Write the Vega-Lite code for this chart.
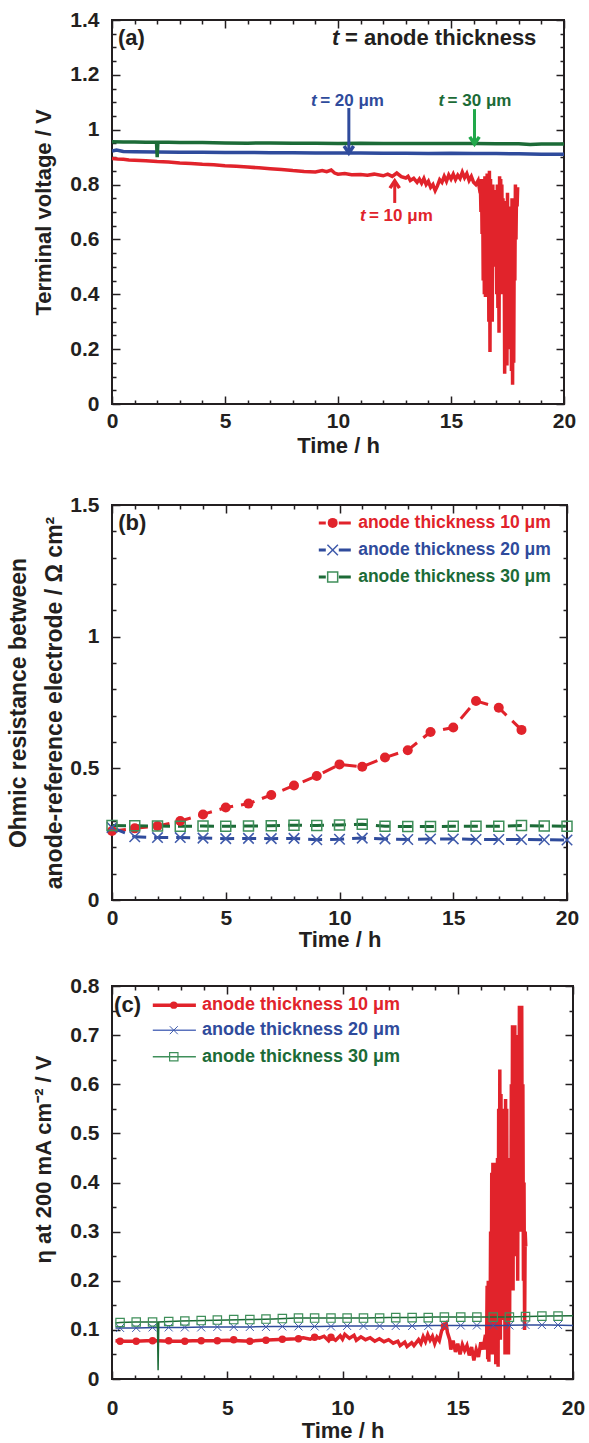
{
"$schema": "https://vega.github.io/schema/vega-lite/v6.json",
"padding": {"left": 6, "top": 8, "right": 5, "bottom": 0},
"background": "white",
"spacing": 22,
"config": {
  "font": "Liberation Sans",
  "view": {"stroke": "#231f20", "strokeWidth": 2},
  "axis": {"domain": false, "grid": false, "labelFont": "Liberation Sans", "labelFontWeight": "bold", "labelFontSize": 21, "labelColor": "#231f20", "titleFont": "Liberation Sans", "titleFontWeight": "bold", "titleFontSize": 22, "titleColor": "#231f20", "tickColor": "#231f20", "tickWidth": 1.5, "labelOverlap": false, "labelFlush": false, "labelBound": false, "format": "~g"},
  "text": {"font": "Liberation Sans", "fontWeight": "bold"}
},
"datasets": {
  "va": [
    {"s":"10","t":0,"v":0.895},{"s":"10","t":0.25,"v":0.893},{"s":"10","t":0.5,"v":0.892},{"s":"10","t":0.75,"v":0.890},{"s":"10","t":1,"v":0.889},{"s":"10","t":1.5,"v":0.887},{"s":"10","t":2,"v":0.884},{"s":"10","t":2.5,"v":0.882},{"s":"10","t":3,"v":0.879},{"s":"10","t":3.5,"v":0.877},{"s":"10","t":4,"v":0.874},{"s":"10","t":4.5,"v":0.872},{"s":"10","t":5,"v":0.869},{"s":"10","t":5.5,"v":0.867},{"s":"10","t":6,"v":0.864},{"s":"10","t":6.5,"v":0.861},{"s":"10","t":7,"v":0.858},{"s":"10","t":7.5,"v":0.855},{"s":"10","t":8,"v":0.851},{"s":"10","t":8.5,"v":0.848},{"s":"10","t":9,"v":0.846},{"s":"10","t":9.3,"v":0.851},{"s":"10","t":9.5,"v":0.847},{"s":"10","t":9.7,"v":0.853},{"s":"10","t":9.85,"v":0.842},{"s":"10","t":10,"v":0.838},{"s":"10","t":10.3,"v":0.840},{"s":"10","t":10.6,"v":0.836},{"s":"10","t":11,"v":0.837},{"s":"10","t":11.3,"v":0.834},{"s":"10","t":11.6,"v":0.838},{"s":"10","t":12,"v":0.832},{"s":"10","t":12.2,"v":0.838},{"s":"10","t":12.4,"v":0.830},{"s":"10","t":12.6,"v":0.842},{"s":"10","t":12.8,"v":0.829},{"s":"10","t":13,"v":0.824},{"s":"10","t":13.1,"v":0.830},{"s":"10","t":13.2,"v":0.815},{"s":"10","t":13.35,"v":0.823},{"s":"10","t":13.5,"v":0.808},{"s":"10","t":13.6,"v":0.820},{"s":"10","t":13.7,"v":0.805},{"s":"10","t":13.8,"v":0.822},{"s":"10","t":13.9,"v":0.800},{"s":"10","t":14,"v":0.812},{"s":"10","t":14.1,"v":0.790},{"s":"10","t":14.2,"v":0.800},{"s":"10","t":14.3,"v":0.778},{"s":"10","t":14.4,"v":0.795},{"s":"10","t":14.5,"v":0.818},{"s":"10","t":14.6,"v":0.808},{"s":"10","t":14.7,"v":0.830},{"s":"10","t":14.8,"v":0.812},{"s":"10","t":14.9,"v":0.835},{"s":"10","t":15,"v":0.820},{"s":"10","t":15.1,"v":0.838},{"s":"10","t":15.2,"v":0.818},{"s":"10","t":15.3,"v":0.834},{"s":"10","t":15.4,"v":0.822},{"s":"10","t":15.5,"v":0.845},{"s":"10","t":15.6,"v":0.825},{"s":"10","t":15.7,"v":0.840},{"s":"10","t":15.8,"v":0.815},{"s":"10","t":15.9,"v":0.830},{"s":"10","t":16,"v":0.808},{"s":"10","t":16.1,"v":0.800},{"s":"10","t":16.2,"v":0.815},{"s":"10","t":16.25,"v":0.790},
    {"s":"10","t":16.3,"v":0.80},{"s":"10","t":16.325,"v":0.70},{"s":"10","t":16.35,"v":0.82},{"s":"10","t":16.375,"v":0.62},{"s":"10","t":16.4,"v":0.80},{"s":"10","t":16.425,"v":0.45},{"s":"10","t":16.45,"v":0.78},{"s":"10","t":16.475,"v":0.40},{"s":"10","t":16.5,"v":0.83},{"s":"10","t":16.525,"v":0.39},{"s":"10","t":16.55,"v":0.76},{"s":"10","t":16.575,"v":0.55},{"s":"10","t":16.6,"v":0.84},{"s":"10","t":16.625,"v":0.45},{"s":"10","t":16.65,"v":0.80},{"s":"10","t":16.675,"v":0.30},{"s":"10","t":16.7,"v":0.85},{"s":"10","t":16.725,"v":0.19},{"s":"10","t":16.75,"v":0.82},{"s":"10","t":16.775,"v":0.40},{"s":"10","t":16.8,"v":0.78},{"s":"10","t":16.825,"v":0.30},{"s":"10","t":16.85,"v":0.80},{"s":"10","t":16.875,"v":0.55},{"s":"10","t":16.9,"v":0.76},{"s":"10","t":16.925,"v":0.50},{"s":"10","t":16.95,"v":0.72},{"s":"10","t":16.975,"v":0.60},{"s":"10","t":17.0,"v":0.78},{"s":"10","t":17.025,"v":0.40},{"s":"10","t":17.05,"v":0.80},{"s":"10","t":17.075,"v":0.35},{"s":"10","t":17.1,"v":0.76},{"s":"10","t":17.125,"v":0.26},{"s":"10","t":17.15,"v":0.83},{"s":"10","t":17.175,"v":0.45},{"s":"10","t":17.2,"v":0.82},{"s":"10","t":17.225,"v":0.40},{"s":"10","t":17.25,"v":0.80},{"s":"10","t":17.275,"v":0.55},{"s":"10","t":17.3,"v":0.75},{"s":"10","t":17.325,"v":0.60},{"s":"10","t":17.35,"v":0.72},{"s":"10","t":17.375,"v":0.11},{"s":"10","t":17.4,"v":0.70},{"s":"10","t":17.425,"v":0.30},{"s":"10","t":17.45,"v":0.74},{"s":"10","t":17.475,"v":0.14},{"s":"10","t":17.5,"v":0.77},{"s":"10","t":17.525,"v":0.35},{"s":"10","t":17.55,"v":0.70},{"s":"10","t":17.575,"v":0.30},{"s":"10","t":17.6,"v":0.72},{"s":"10","t":17.625,"v":0.20},{"s":"10","t":17.65,"v":0.68},{"s":"10","t":17.675,"v":0.12},{"s":"10","t":17.7,"v":0.75},{"s":"10","t":17.725,"v":0.07},{"s":"10","t":17.75,"v":0.70},{"s":"10","t":17.775,"v":0.15},{"s":"10","t":17.8,"v":0.66},{"s":"10","t":17.825,"v":0.45},{"s":"10","t":17.85,"v":0.80},{"s":"10","t":17.875,"v":0.60},{"s":"10","t":17.9,"v":0.78},{"s":"10","t":17.925,"v":0.72},{"s":"10","t":17.95,"v":0.79},
    {"s":"20","t":0,"v":0.922},{"s":"20","t":0.2,"v":0.926},{"s":"20","t":0.5,"v":0.921},{"s":"20","t":1,"v":0.920},{"s":"20","t":2,"v":0.919},{"s":"20","t":3,"v":0.918},{"s":"20","t":4,"v":0.918},{"s":"20","t":5,"v":0.917},{"s":"20","t":6,"v":0.917},{"s":"20","t":7,"v":0.916},{"s":"20","t":8,"v":0.916},{"s":"20","t":9,"v":0.915},{"s":"20","t":10,"v":0.915},{"s":"20","t":11,"v":0.915},{"s":"20","t":12,"v":0.914},{"s":"20","t":13,"v":0.914},{"s":"20","t":14,"v":0.913},{"s":"20","t":15,"v":0.914},{"s":"20","t":16,"v":0.913},{"s":"20","t":17,"v":0.913},{"s":"20","t":18,"v":0.912},{"s":"20","t":19,"v":0.911},{"s":"20","t":20,"v":0.911},
    {"s":"30","t":0,"v":0.956},{"s":"30","t":0.5,"v":0.955},{"s":"30","t":1,"v":0.955},{"s":"30","t":1.5,"v":0.954},{"s":"30","t":1.97,"v":0.954},{"s":"30","t":2.0,"v":0.900},{"s":"30","t":2.03,"v":0.954},{"s":"30","t":2.5,"v":0.954},{"s":"30","t":3,"v":0.953},{"s":"30","t":4,"v":0.953},{"s":"30","t":5,"v":0.952},{"s":"30","t":6,"v":0.951},{"s":"30","t":7,"v":0.952},{"s":"30","t":8,"v":0.951},{"s":"30","t":9,"v":0.951},{"s":"30","t":10,"v":0.950},{"s":"30","t":11,"v":0.951},{"s":"30","t":12,"v":0.950},{"s":"30","t":13,"v":0.950},{"s":"30","t":14,"v":0.950},{"s":"30","t":15,"v":0.950},{"s":"30","t":16,"v":0.950},{"s":"30","t":17,"v":0.949},{"s":"30","t":18,"v":0.949},{"s":"30","t":18.5,"v":0.946},{"s":"30","t":19,"v":0.948},{"s":"30","t":20,"v":0.948}
  ],
  "arrA": [
    {"s":"20","t":10.48,"v1":1.079,"v2":0.915,"dir":"down"},
    {"s":"30","t":16.04,"v1":1.075,"v2":0.948,"dir":"down"},
    {"s":"10","t":12.51,"v1":0.733,"v2":0.813,"dir":"up"}
  ],
  "annA": [
    {"kind":"big","label":"(a)","t":0.26,"v":1.334},
    {"kind":"big","label":"= anode thickness","t":10.31,"v":1.334},
    {"kind":"bigI","label":"t","t":9.74,"v":1.334},
    {"kind":"small","s":"20","label":"= 20 μm","t":9.21,"v":1.106},
    {"kind":"smallI","s":"20","label":"t","t":8.81,"v":1.106},
    {"kind":"small","s":"30","label":"= 30 μm","t":14.85,"v":1.105},
    {"kind":"smallI","s":"30","label":"t","t":14.45,"v":1.105},
    {"kind":"small","s":"10","label":"= 10 μm","t":11.37,"v":0.685},
    {"kind":"smallI","s":"10","label":"t","t":10.97,"v":0.685}
  ],
  "rb": [
    {"s":"10","t":0,"r":0.262},{"s":"10","t":1,"r":0.272},{"s":"10","t":2,"r":0.281},{"s":"10","t":3,"r":0.300},{"s":"10","t":4,"r":0.325},{"s":"10","t":5,"r":0.351},{"s":"10","t":6,"r":0.366},{"s":"10","t":7,"r":0.399},{"s":"10","t":8,"r":0.435},{"s":"10","t":9,"r":0.471},{"s":"10","t":10,"r":0.515},{"s":"10","t":11,"r":0.506},{"s":"10","t":12,"r":0.541},{"s":"10","t":13,"r":0.569},{"s":"10","t":14,"r":0.638},{"s":"10","t":15,"r":0.655},{"s":"10","t":16,"r":0.756},{"s":"10","t":17,"r":0.730},{"s":"10","t":18,"r":0.646},
    {"s":"20","t":0,"r":0.275},{"s":"20","t":1,"r":0.240},{"s":"20","t":2,"r":0.237},{"s":"20","t":3,"r":0.237},{"s":"20","t":4,"r":0.235},{"s":"20","t":5,"r":0.233},{"s":"20","t":6,"r":0.234},{"s":"20","t":7,"r":0.233},{"s":"20","t":8,"r":0.234},{"s":"20","t":9,"r":0.229},{"s":"20","t":10,"r":0.231},{"s":"20","t":11,"r":0.235},{"s":"20","t":12,"r":0.232},{"s":"20","t":13,"r":0.230},{"s":"20","t":14,"r":0.232},{"s":"20","t":15,"r":0.232},{"s":"20","t":16,"r":0.230},{"s":"20","t":17,"r":0.230},{"s":"20","t":18,"r":0.230},{"s":"20","t":19,"r":0.229},{"s":"20","t":20,"r":0.228},
    {"s":"30","t":0,"r":0.283},{"s":"30","t":1,"r":0.282},{"s":"30","t":2,"r":0.281},{"s":"30","t":3,"r":0.280},{"s":"30","t":4,"r":0.281},{"s":"30","t":5,"r":0.280},{"s":"30","t":6,"r":0.281},{"s":"30","t":7,"r":0.282},{"s":"30","t":8,"r":0.284},{"s":"30","t":9,"r":0.283},{"s":"30","t":10,"r":0.285},{"s":"30","t":11,"r":0.288},{"s":"30","t":12,"r":0.280},{"s":"30","t":13,"r":0.279},{"s":"30","t":14,"r":0.279},{"s":"30","t":15,"r":0.280},{"s":"30","t":16,"r":0.280},{"s":"30","t":17,"r":0.280},{"s":"30","t":18,"r":0.283},{"s":"30","t":19,"r":0.281},{"s":"30","t":20,"r":0.280}
  ],
  "legB": [
    {"s":"10","label":"anode thickness 10 μm","t1":9.09,"t2":10.51,"tm":9.7,"tx":10.82,"y":1.432},
    {"s":"20","label":"anode thickness 20 μm","t1":9.09,"t2":10.51,"tm":9.7,"tx":10.82,"y":1.329},
    {"s":"30","label":"anode thickness 30 μm","t1":9.09,"t2":10.51,"tm":9.7,"tx":10.82,"y":1.227}
  ],
  "annB": [{"label":"(b)","t":0.27,"r":1.432}],
  "vc": [
    {"s":"10","t":0.15,"e":0.078},{"s":"10","t":0.5,"e":0.077},{"s":"10","t":1,"e":0.077},{"s":"10","t":1.5,"e":0.078},{"s":"10","t":2,"e":0.078},{"s":"10","t":2.5,"e":0.077},{"s":"10","t":3,"e":0.077},{"s":"10","t":3.5,"e":0.078},{"s":"10","t":4,"e":0.078},{"s":"10","t":4.5,"e":0.078},{"s":"10","t":5,"e":0.079},{"s":"10","t":5.5,"e":0.078},{"s":"10","t":6,"e":0.077},{"s":"10","t":6.5,"e":0.079},{"s":"10","t":7,"e":0.080},{"s":"10","t":7.5,"e":0.081},{"s":"10","t":8,"e":0.082},{"s":"10","t":8.3,"e":0.084},{"s":"10","t":8.6,"e":0.081},{"s":"10","t":8.8,"e":0.086},{"s":"10","t":9,"e":0.083},{"s":"10","t":9.2,"e":0.087},{"s":"10","t":9.4,"e":0.078},{"s":"10","t":9.5,"e":0.085},{"s":"10","t":9.7,"e":0.079},{"s":"10","t":9.9,"e":0.088},{"s":"10","t":10,"e":0.081},{"s":"10","t":10.1,"e":0.091},{"s":"10","t":10.3,"e":0.083},{"s":"10","t":10.5,"e":0.089},{"s":"10","t":10.6,"e":0.079},{"s":"10","t":10.8,"e":0.086},{"s":"10","t":11,"e":0.080},{"s":"10","t":11.2,"e":0.084},{"s":"10","t":11.4,"e":0.077},{"s":"10","t":11.6,"e":0.082},{"s":"10","t":11.8,"e":0.076},{"s":"10","t":12,"e":0.080},{"s":"10","t":12.2,"e":0.073},{"s":"10","t":12.4,"e":0.077},{"s":"10","t":12.5,"e":0.068},{"s":"10","t":12.7,"e":0.075},{"s":"10","t":12.8,"e":0.066},{"s":"10","t":13,"e":0.074},{"s":"10","t":13.1,"e":0.068},{"s":"10","t":13.3,"e":0.080},{"s":"10","t":13.4,"e":0.072},{"s":"10","t":13.5,"e":0.086},{"s":"10","t":13.6,"e":0.076},{"s":"10","t":13.7,"e":0.090},{"s":"10","t":13.8,"e":0.079},{"s":"10","t":13.9,"e":0.087},{"s":"10","t":14,"e":0.072},{"s":"10","t":14.1,"e":0.085},{"s":"10","t":14.2,"e":0.078},{"s":"10","t":14.3,"e":0.098},{"s":"10","t":14.4,"e":0.105},{"s":"10","t":14.5,"e":0.112},{"s":"10","t":14.55,"e":0.095},{"s":"10","t":14.65,"e":0.080},{"s":"10","t":14.7,"e":0.060},{"s":"10","t":14.8,"e":0.078},{"s":"10","t":14.9,"e":0.055},{"s":"10","t":15,"e":0.072},{"s":"10","t":15.1,"e":0.050},{"s":"10","t":15.2,"e":0.070},{"s":"10","t":15.3,"e":0.058},{"s":"10","t":15.4,"e":0.068},{"s":"10","t":15.5,"e":0.048},{"s":"10","t":15.6,"e":0.065},{"s":"10","t":15.7,"e":0.038},{"s":"10","t":15.8,"e":0.060},{"s":"10","t":15.9,"e":0.045},{"s":"10","t":16,"e":0.075},{"s":"10","t":16.1,"e":0.060},{"s":"10","t":16.2,"e":0.090},
    {"s":"10","t":16.25,"e":0.06},{"s":"10","t":16.275,"e":0.19},{"s":"10","t":16.3,"e":0.04},{"s":"10","t":16.325,"e":0.20},{"s":"10","t":16.35,"e":0.035},{"s":"10","t":16.375,"e":0.18},{"s":"10","t":16.4,"e":0.06},{"s":"10","t":16.425,"e":0.30},{"s":"10","t":16.45,"e":0.05},{"s":"10","t":16.475,"e":0.42},{"s":"10","t":16.5,"e":0.08},{"s":"10","t":16.525,"e":0.44},{"s":"10","t":16.55,"e":0.05},{"s":"10","t":16.575,"e":0.44},{"s":"10","t":16.6,"e":0.10},{"s":"10","t":16.625,"e":0.40},{"s":"10","t":16.65,"e":0.03},{"s":"10","t":16.675,"e":0.35},{"s":"10","t":16.7,"e":0.12},{"s":"10","t":16.725,"e":0.45},{"s":"10","t":16.75,"e":0.025},{"s":"10","t":16.775,"e":0.55},{"s":"10","t":16.8,"e":0.15},{"s":"10","t":16.825,"e":0.63},{"s":"10","t":16.85,"e":0.08},{"s":"10","t":16.875,"e":0.58},{"s":"10","t":16.9,"e":0.20},{"s":"10","t":16.925,"e":0.55},{"s":"10","t":16.95,"e":0.12},{"s":"10","t":16.975,"e":0.50},{"s":"10","t":17.0,"e":0.25},{"s":"10","t":17.025,"e":0.47},{"s":"10","t":17.05,"e":0.05},{"s":"10","t":17.075,"e":0.57},{"s":"10","t":17.1,"e":0.20},{"s":"10","t":17.125,"e":0.55},{"s":"10","t":17.15,"e":0.10},{"s":"10","t":17.175,"e":0.40},{"s":"10","t":17.2,"e":0.05},{"s":"10","t":17.225,"e":0.30},{"s":"10","t":17.25,"e":0.12},{"s":"10","t":17.275,"e":0.45},{"s":"10","t":17.3,"e":0.20},{"s":"10","t":17.325,"e":0.60},{"s":"10","t":17.35,"e":0.25},{"s":"10","t":17.375,"e":0.72},{"s":"10","t":17.4,"e":0.18},{"s":"10","t":17.425,"e":0.71},{"s":"10","t":17.45,"e":0.30},{"s":"10","t":17.475,"e":0.72},{"s":"10","t":17.5,"e":0.25},{"s":"10","t":17.525,"e":0.65},{"s":"10","t":17.55,"e":0.35},{"s":"10","t":17.575,"e":0.70},{"s":"10","t":17.6,"e":0.20},{"s":"10","t":17.625,"e":0.68},{"s":"10","t":17.65,"e":0.40},{"s":"10","t":17.675,"e":0.76},{"s":"10","t":17.7,"e":0.30},{"s":"10","t":17.725,"e":0.75},{"s":"10","t":17.75,"e":0.45},{"s":"10","t":17.775,"e":0.76},{"s":"10","t":17.8,"e":0.35},{"s":"10","t":17.825,"e":0.60},{"s":"10","t":17.85,"e":0.20},{"s":"10","t":17.875,"e":0.40},{"s":"10","t":17.9,"e":0.10},{"s":"10","t":17.925,"e":0.30},{"s":"10","t":17.95,"e":0.27},
    {"s":"20","t":0.15,"e":0.104},{"s":"20","t":1,"e":0.104},{"s":"20","t":2,"e":0.105},{"s":"20","t":3,"e":0.105},{"s":"20","t":4,"e":0.106},{"s":"20","t":5,"e":0.106},{"s":"20","t":6,"e":0.106},{"s":"20","t":7,"e":0.107},{"s":"20","t":8,"e":0.107},{"s":"20","t":9,"e":0.107},{"s":"20","t":10,"e":0.108},{"s":"20","t":11,"e":0.108},{"s":"20","t":12,"e":0.108},{"s":"20","t":13,"e":0.108},{"s":"20","t":14,"e":0.109},{"s":"20","t":15,"e":0.109},{"s":"20","t":16,"e":0.109},{"s":"20","t":17,"e":0.109},{"s":"20","t":18,"e":0.110},{"s":"20","t":19,"e":0.110},{"s":"20","t":20,"e":0.109},
    {"s":"30","t":0.15,"e":0.114},{"s":"30","t":0.35,"e":0.115},{"s":"30","t":1,"e":0.116},{"s":"30","t":1.97,"e":0.116},{"s":"30","t":2.0,"e":0.018},{"s":"30","t":2.03,"e":0.116},{"s":"30","t":2.5,"e":0.117},{"s":"30","t":3,"e":0.118},{"s":"30","t":4,"e":0.119},{"s":"30","t":5,"e":0.120},{"s":"30","t":6,"e":0.121},{"s":"30","t":7,"e":0.122},{"s":"30","t":8,"e":0.124},{"s":"30","t":9,"e":0.124},{"s":"30","t":10,"e":0.124},{"s":"30","t":11,"e":0.124},{"s":"30","t":12,"e":0.125},{"s":"30","t":13,"e":0.125},{"s":"30","t":14,"e":0.126},{"s":"30","t":15,"e":0.126},{"s":"30","t":16,"e":0.126},{"s":"30","t":17,"e":0.126},{"s":"30","t":18,"e":0.127},{"s":"30","t":19,"e":0.128},{"s":"30","t":20,"e":0.129}
  ],
  "mc": [
    {"s":"10","t":0.35,"e":0.077},{"s":"10","t":1.05,"e":0.077},{"s":"10","t":1.76,"e":0.078},{"s":"10","t":2.46,"e":0.078},{"s":"10","t":3.16,"e":0.077},{"s":"10","t":3.87,"e":0.078},{"s":"10","t":4.57,"e":0.078},{"s":"10","t":5.28,"e":0.080},{"s":"10","t":5.98,"e":0.077},{"s":"10","t":6.68,"e":0.079},{"s":"10","t":7.39,"e":0.081},{"s":"10","t":8.09,"e":0.082},{"s":"10","t":8.79,"e":0.085},{"s":"10","t":9.5,"e":0.085},{"s":"10","t":14.42,"e":0.108},
    {"s":"20","t":0.35,"e":0.104},{"s":"20","t":1.05,"e":0.104},{"s":"20","t":1.76,"e":0.105},{"s":"20","t":2.46,"e":0.105},{"s":"20","t":3.16,"e":0.105},{"s":"20","t":3.87,"e":0.105},{"s":"20","t":4.57,"e":0.106},{"s":"20","t":5.28,"e":0.106},{"s":"20","t":5.98,"e":0.106},{"s":"20","t":6.68,"e":0.106},{"s":"20","t":7.39,"e":0.107},{"s":"20","t":8.09,"e":0.107},{"s":"20","t":8.79,"e":0.107},{"s":"20","t":9.5,"e":0.107},{"s":"20","t":10.2,"e":0.108},{"s":"20","t":10.91,"e":0.108},{"s":"20","t":11.61,"e":0.108},{"s":"20","t":12.31,"e":0.108},{"s":"20","t":13.02,"e":0.108},{"s":"20","t":13.72,"e":0.108},{"s":"20","t":14.42,"e":0.109},{"s":"20","t":15.13,"e":0.109},{"s":"20","t":15.83,"e":0.109},{"s":"20","t":16.54,"e":0.109},{"s":"20","t":17.24,"e":0.109},{"s":"20","t":17.94,"e":0.110},{"s":"20","t":18.65,"e":0.110},{"s":"20","t":19.35,"e":0.110},
    {"s":"30","t":0.35,"e":0.115},{"s":"30","t":1.05,"e":0.116},{"s":"30","t":1.76,"e":0.116},{"s":"30","t":2.46,"e":0.117},{"s":"30","t":3.16,"e":0.118},{"s":"30","t":3.87,"e":0.119},{"s":"30","t":4.57,"e":0.120},{"s":"30","t":5.28,"e":0.121},{"s":"30","t":5.98,"e":0.121},{"s":"30","t":6.68,"e":0.122},{"s":"30","t":7.39,"e":0.123},{"s":"30","t":8.09,"e":0.124},{"s":"30","t":8.79,"e":0.124},{"s":"30","t":9.5,"e":0.124},{"s":"30","t":10.2,"e":0.124},{"s":"30","t":10.91,"e":0.124},{"s":"30","t":11.61,"e":0.124},{"s":"30","t":12.31,"e":0.125},{"s":"30","t":13.02,"e":0.125},{"s":"30","t":13.72,"e":0.125},{"s":"30","t":14.42,"e":0.126},{"s":"30","t":15.13,"e":0.126},{"s":"30","t":15.83,"e":0.126},{"s":"30","t":16.54,"e":0.126},{"s":"30","t":17.24,"e":0.126},{"s":"30","t":17.94,"e":0.127},{"s":"30","t":18.65,"e":0.128},{"s":"30","t":19.35,"e":0.128}
  ],
  "legC": [
    {"s":"10","label":"anode thickness 10 μm","t1":1.77,"t2":3.64,"tm":2.68,"tx":3.9,"y":0.761},
    {"s":"20","label":"anode thickness 20 μm","t1":1.77,"t2":3.64,"tm":2.68,"tx":3.9,"y":0.710},
    {"s":"30","label":"anode thickness 30 μm","t1":1.77,"t2":3.64,"tm":2.68,"tx":3.9,"y":0.656}
  ],
  "annC": [{"label":"(c)","t":0.09,"e":0.761}]
},
"vconcat": [
{
  "width": 452, "height": 384,
  "resolve": {"axis": {"x": "independent", "y": "independent"}, "scale": {"color": "independent"}},
  "layer": [
    {"data": {"name": "va"}, "transform": [{"filter": "datum.s == '10'"}],
     "mark": {"type": "line", "strokeWidth": 3.5, "color": "#e1232b", "clip": true},
     "encoding": {
       "x": {"field": "t", "type": "quantitative", "scale": {"domain": [0, 20], "nice": false, "zero": false},
             "axis": {"orient": "bottom", "values": [0,1,2,3,4,5,6,7,8,9,10,11,12,13,14,15,16,17,18,19,20], "labelExpr": "datum.value % 5 == 0 ? datum.label : ''", "tickSize": {"condition": {"test": "datum.value % 5 == 0", "value": -8}, "value": -4}, "labelPadding": 14.5, "title": "Time / h", "titlePadding": 0}},
       "y": {"field": "v", "type": "quantitative", "scale": {"domain": [0, 1.4], "nice": false, "zero": false},
             "axis": {"orient": "left", "values": [0,0.05,0.1,0.15,0.2,0.25,0.3,0.35,0.4,0.45,0.5,0.55,0.6,0.65,0.7,0.75,0.8,0.85,0.9,0.95,1,1.05,1.1,1.15,1.2,1.25,1.3,1.35,1.4], "labelExpr": "round(datum.value*20) % 4 == 0 ? datum.label : ''", "tickSize": {"condition": {"test": "round(datum.value*20) % 4 == 0", "value": -8}, "value": -4}, "labelPadding": 21, "title": "Terminal voltage / V", "titlePadding": 14}}
     }},
    {"data": {"name": "va"}, "transform": [{"filter": "datum.s == '20'"}],
     "mark": {"type": "line", "strokeWidth": 3.5, "color": "#2f4b9c", "clip": true},
     "encoding": {
       "x": {"field": "t", "type": "quantitative", "axis": {"orient": "top", "values": [0,1,2,3,4,5,6,7,8,9,10,11,12,13,14,15,16,17,18,19,20], "labels": false, "tickSize": {"condition": {"test": "datum.value % 5 == 0", "value": -8}, "value": -4}, "title": null}},
       "y": {"field": "v", "type": "quantitative", "axis": {"orient": "right", "values": [0,0.05,0.1,0.15,0.2,0.25,0.3,0.35,0.4,0.45,0.5,0.55,0.6,0.65,0.7,0.75,0.8,0.85,0.9,0.95,1,1.05,1.1,1.15,1.2,1.25,1.3,1.35,1.4], "labels": false, "tickSize": {"condition": {"test": "round(datum.value*20) % 4 == 0", "value": -8}, "value": -4}, "title": null}}
     }},
    {"data": {"name": "va"}, "transform": [{"filter": "datum.s == '30'"}],
     "mark": {"type": "line", "strokeWidth": 3.5, "color": "#1c6b37", "clip": true},
     "encoding": {"x": {"field": "t", "type": "quantitative", "axis": null}, "y": {"field": "v", "type": "quantitative", "axis": null}}},
    {"data": {"name": "arrA"},
     "mark": {"type": "rule", "strokeWidth": 3},
     "encoding": {"x": {"field": "t", "type": "quantitative", "axis": null}, "y": {"field": "v1", "type": "quantitative", "axis": null}, "y2": {"field": "v2"},
       "color": {"field": "s", "type": "nominal", "scale": {"domain": ["10","20","30"], "range": ["#e1232b","#2f4b9c","#21a84a"]}, "legend": null}}},
    {"data": {"name": "arrA"}, "transform": [{"filter": "datum.dir == 'down'"}],
     "mark": {"type": "point", "shape": "M-1,-1.5L0,0L1,-1.5", "size": 90, "filled": false, "strokeWidth": 3.5, "opacity": 1, "strokeJoin": "miter"},
     "encoding": {"x": {"field": "t", "type": "quantitative", "axis": null}, "y": {"field": "v2", "type": "quantitative", "axis": null},
       "color": {"field": "s", "type": "nominal", "scale": {"domain": ["10","20","30"], "range": ["#e1232b","#2f4b9c","#21a84a"]}, "legend": null}}},
    {"data": {"name": "arrA"}, "transform": [{"filter": "datum.dir == 'up'"}],
     "mark": {"type": "point", "shape": "M-1,1.5L0,0L1,1.5", "size": 90, "filled": false, "strokeWidth": 3.5, "opacity": 1, "strokeJoin": "miter"},
     "encoding": {"x": {"field": "t", "type": "quantitative", "axis": null}, "y": {"field": "v2", "type": "quantitative", "axis": null},
       "color": {"field": "s", "type": "nominal", "scale": {"domain": ["10","20","30"], "range": ["#e1232b","#2f4b9c","#21a84a"]}, "legend": null}}},
    {"data": {"name": "annA"}, "transform": [{"filter": "datum.kind == 'big'"}],
     "mark": {"type": "text", "align": "left", "baseline": "middle", "fontSize": 22, "fontWeight": "bold", "color": "#231f20"},
     "encoding": {"x": {"field": "t", "type": "quantitative", "axis": null}, "y": {"field": "v", "type": "quantitative", "axis": null}, "text": {"field": "label"}}},
    {"data": {"name": "annA"}, "transform": [{"filter": "datum.kind == 'bigI'"}],
     "mark": {"type": "text", "align": "left", "baseline": "middle", "fontSize": 22, "fontWeight": "bold", "fontStyle": "italic", "color": "#231f20"},
     "encoding": {"x": {"field": "t", "type": "quantitative", "axis": null}, "y": {"field": "v", "type": "quantitative", "axis": null}, "text": {"field": "label"}}},
    {"data": {"name": "annA"}, "transform": [{"filter": "datum.kind == 'small'"}],
     "mark": {"type": "text", "align": "left", "baseline": "middle", "fontSize": 17, "fontWeight": "bold"},
     "encoding": {"x": {"field": "t", "type": "quantitative", "axis": null}, "y": {"field": "v", "type": "quantitative", "axis": null}, "text": {"field": "label"},
       "color": {"field": "s", "type": "nominal", "scale": {"domain": ["10","20","30"], "range": ["#e1232b","#2f4b9c","#1c6b37"]}, "legend": null}}},
    {"data": {"name": "annA"}, "transform": [{"filter": "datum.kind == 'smallI'"}],
     "mark": {"type": "text", "align": "left", "baseline": "middle", "fontSize": 17, "fontWeight": "bold", "fontStyle": "italic"},
     "encoding": {"x": {"field": "t", "type": "quantitative", "axis": null}, "y": {"field": "v", "type": "quantitative", "axis": null}, "text": {"field": "label"},
       "color": {"field": "s", "type": "nominal", "scale": {"domain": ["10","20","30"], "range": ["#e1232b","#2f4b9c","#1c6b37"]}, "legend": null}}}
  ]
},
{
  "width": 455, "height": 395,
  "resolve": {"axis": {"x": "independent", "y": "independent"}, "scale": {"color": "independent"}},
  "layer": [
    {"data": {"name": "rb"}, "transform": [{"filter": "datum.s == '10'"}],
     "mark": {"type": "line", "strokeWidth": 3, "strokeDash": [14, 8], "color": "#e1232b", "clip": true},
     "encoding": {
       "x": {"field": "t", "type": "quantitative", "scale": {"domain": [0, 20], "nice": false, "zero": false},
             "axis": {"orient": "bottom", "values": [0,1,2,3,4,5,6,7,8,9,10,11,12,13,14,15,16,17,18,19,20], "labelExpr": "datum.value % 5 == 0 ? datum.label : ''", "tickSize": {"condition": {"test": "datum.value % 5 == 0", "value": -8}, "value": -4}, "labelPadding": 15.5, "title": "Time / h", "titlePadding": -3}},
       "y": {"field": "r", "type": "quantitative", "scale": {"domain": [0, 1.5], "nice": false, "zero": false},
             "axis": {"orient": "left", "values": [0,0.1,0.2,0.3,0.4,0.5,0.6,0.7,0.8,0.9,1,1.1,1.2,1.3,1.4,1.5], "labelExpr": "round(datum.value*10) % 5 == 0 ? datum.label : ''", "tickSize": {"condition": {"test": "round(datum.value*10) % 5 == 0", "value": -8}, "value": -4}, "labelPadding": 21, "title": ["Ohmic resistance between", "anode-reference electrode / Ω cm²"], "titleFontSize": 23, "titleLineHeight": 36, "titlePadding": 3}}
     }},
    {"data": {"name": "rb"}, "transform": [{"filter": "datum.s == '20'"}],
     "mark": {"type": "line", "strokeWidth": 3, "strokeDash": [14, 8], "color": "#2f4b9c", "clip": true},
     "encoding": {
       "x": {"field": "t", "type": "quantitative", "axis": {"orient": "top", "values": [0,1,2,3,4,5,6,7,8,9,10,11,12,13,14,15,16,17,18,19,20], "labels": false, "tickSize": {"condition": {"test": "datum.value % 5 == 0", "value": -8}, "value": -4}, "title": " ", "titleFontSize": 10, "titlePadding": 13}},
       "y": {"field": "r", "type": "quantitative", "axis": {"orient": "right", "values": [0,0.1,0.2,0.3,0.4,0.5,0.6,0.7,0.8,0.9,1,1.1,1.2,1.3,1.4,1.5], "labels": false, "tickSize": {"condition": {"test": "round(datum.value*10) % 5 == 0", "value": -8}, "value": -4}, "title": null}}
     }},
    {"data": {"name": "rb"}, "transform": [{"filter": "datum.s == '30'"}],
     "mark": {"type": "line", "strokeWidth": 3, "strokeDash": [14, 8], "color": "#1c6b37", "clip": true},
     "encoding": {"x": {"field": "t", "type": "quantitative", "axis": null}, "y": {"field": "r", "type": "quantitative", "axis": null}}},
    {"data": {"name": "rb"}, "transform": [{"filter": "datum.s == '10'"}],
     "mark": {"type": "point", "shape": "circle", "filled": true, "size": 100, "color": "#e1232b", "opacity": 1},
     "encoding": {"x": {"field": "t", "type": "quantitative", "axis": null}, "y": {"field": "r", "type": "quantitative", "axis": null}}},
    {"data": {"name": "rb"}, "transform": [{"filter": "datum.s == '20'"}],
     "mark": {"type": "point", "shape": "M-1,-1L1,1M-1,1L1,-1", "filled": false, "size": 110, "strokeWidth": 1.5, "color": "#3f5aab", "opacity": 1},
     "encoding": {"x": {"field": "t", "type": "quantitative", "axis": null}, "y": {"field": "r", "type": "quantitative", "axis": null}}},
    {"data": {"name": "rb"}, "transform": [{"filter": "datum.s == '30'"}],
     "mark": {"type": "point", "shape": "square", "filled": false, "size": 100, "strokeWidth": 1.5, "color": "#3f8f5a", "opacity": 1},
     "encoding": {"x": {"field": "t", "type": "quantitative", "axis": null}, "y": {"field": "r", "type": "quantitative", "axis": null}}},
    {"data": {"name": "legB"},
     "mark": {"type": "rule", "strokeWidth": 3, "strokeDash": [7, 13, 12]},
     "encoding": {"x": {"field": "t1", "type": "quantitative", "axis": null}, "x2": {"field": "t2"}, "y": {"field": "y", "type": "quantitative", "axis": null},
       "color": {"field": "s", "type": "nominal", "scale": {"domain": ["10","20","30"], "range": ["#e1232b","#2f4b9c","#1c6b37"]}, "legend": null}}},
    {"data": {"name": "legB"}, "transform": [{"filter": "datum.s == '10'"}],
     "mark": {"type": "point", "shape": "circle", "filled": true, "size": 100, "color": "#e1232b", "opacity": 1},
     "encoding": {"x": {"field": "tm", "type": "quantitative", "axis": null}, "y": {"field": "y", "type": "quantitative", "axis": null}}},
    {"data": {"name": "legB"}, "transform": [{"filter": "datum.s == '20'"}],
     "mark": {"type": "point", "shape": "M-1,-1L1,1M-1,1L1,-1", "filled": false, "size": 110, "strokeWidth": 1.5, "color": "#3f5aab", "opacity": 1},
     "encoding": {"x": {"field": "tm", "type": "quantitative", "axis": null}, "y": {"field": "y", "type": "quantitative", "axis": null}}},
    {"data": {"name": "legB"}, "transform": [{"filter": "datum.s == '30'"}],
     "mark": {"type": "point", "shape": "square", "filled": false, "size": 100, "strokeWidth": 1.5, "color": "#3f8f5a", "opacity": 1},
     "encoding": {"x": {"field": "tm", "type": "quantitative", "axis": null}, "y": {"field": "y", "type": "quantitative", "axis": null}}},
    {"data": {"name": "legB"},
     "mark": {"type": "text", "align": "left", "baseline": "middle", "fontSize": 17.5, "fontWeight": "bold"},
     "encoding": {"x": {"field": "tx", "type": "quantitative", "axis": null}, "y": {"field": "y", "type": "quantitative", "axis": null}, "text": {"field": "label"},
       "color": {"field": "s", "type": "nominal", "scale": {"domain": ["10","20","30"], "range": ["#e1232b","#2f4b9c","#1c6b37"]}, "legend": null}}},
    {"data": {"name": "annB"},
     "mark": {"type": "text", "align": "left", "baseline": "middle", "fontSize": 22, "fontWeight": "bold", "color": "#231f20"},
     "encoding": {"x": {"field": "t", "type": "quantitative", "axis": null}, "y": {"field": "r", "type": "quantitative", "axis": null}, "text": {"field": "label"}}}
  ]
},
{
  "width": 461, "height": 393,
  "resolve": {"axis": {"x": "independent", "y": "independent"}, "scale": {"color": "independent"}},
  "layer": [
    {"data": {"name": "vc"}, "transform": [{"filter": "datum.s == '10'"}],
     "mark": {"type": "line", "strokeWidth": 3.5, "color": "#e1232b", "clip": true},
     "encoding": {
       "x": {"field": "t", "type": "quantitative", "scale": {"domain": [0, 20], "nice": false, "zero": false},
             "axis": {"orient": "bottom", "values": [0,1,2,3,4,5,6,7,8,9,10,11,12,13,14,15,16,17,18,19,20], "labelExpr": "datum.value % 5 == 0 ? datum.label : ''", "tickSize": {"condition": {"test": "datum.value % 5 == 0", "value": -8}, "value": -4}, "labelPadding": 26.5, "title": "Time / h", "titlePadding": -2}},
       "y": {"field": "e", "type": "quantitative", "scale": {"domain": [0, 0.8], "nice": false, "zero": false},
             "axis": {"orient": "left", "values": [0,0.05,0.1,0.15,0.2,0.25,0.3,0.35,0.4,0.45,0.5,0.55,0.6,0.65,0.7,0.75,0.8], "labelExpr": "round(datum.value*20) % 2 == 0 ? datum.label : ''", "tickSize": {"condition": {"test": "round(datum.value*20) % 2 == 0", "value": -8}, "value": -4}, "labelPadding": 21, "title": "η at 200 mA cm⁻² / V", "titlePadding": 14, "titleY": 173}}
     }},
    {"data": {"name": "vc"}, "transform": [{"filter": "datum.s == '20'"}],
     "mark": {"type": "line", "strokeWidth": 1.5, "color": "#2f4b9c", "clip": true},
     "encoding": {
       "x": {"field": "t", "type": "quantitative", "axis": {"orient": "top", "values": [0,1,2,3,4,5,6,7,8,9,10,11,12,13,14,15,16,17,18,19,20], "labels": false, "tickSize": {"condition": {"test": "datum.value % 5 == 0", "value": -8}, "value": -4}, "title": null}},
       "y": {"field": "e", "type": "quantitative", "axis": {"orient": "right", "values": [0,0.05,0.1,0.15,0.2,0.25,0.3,0.35,0.4,0.45,0.5,0.55,0.6,0.65,0.7,0.75,0.8], "labels": false, "tickSize": {"condition": {"test": "round(datum.value*20) % 2 == 0", "value": -8}, "value": -4}, "title": null}}
     }},
    {"data": {"name": "vc"}, "transform": [{"filter": "datum.s == '30'"}],
     "mark": {"type": "line", "strokeWidth": 1.5, "color": "#1c6b37", "clip": true},
     "encoding": {"x": {"field": "t", "type": "quantitative", "axis": null}, "y": {"field": "e", "type": "quantitative", "axis": null}}},
    {"data": {"name": "mc"}, "transform": [{"filter": "datum.s == '10'"}],
     "mark": {"type": "point", "shape": "circle", "filled": true, "size": 55, "color": "#e1232b", "opacity": 1},
     "encoding": {"x": {"field": "t", "type": "quantitative", "axis": null}, "y": {"field": "e", "type": "quantitative", "axis": null}}},
    {"data": {"name": "mc"}, "transform": [{"filter": "datum.s == '20'"}],
     "mark": {"type": "point", "shape": "M-1,-1L1,1M-1,1L1,-1", "filled": false, "size": 64, "strokeWidth": 1, "color": "#3f5aab", "opacity": 1},
     "encoding": {"x": {"field": "t", "type": "quantitative", "axis": null}, "y": {"field": "e", "type": "quantitative", "axis": null}}},
    {"data": {"name": "mc"}, "transform": [{"filter": "datum.s == '30'"}],
     "mark": {"type": "point", "shape": "square", "filled": false, "size": 70, "strokeWidth": 1.2, "color": "#3f8f5a", "opacity": 1},
     "encoding": {"x": {"field": "t", "type": "quantitative", "axis": null}, "y": {"field": "e", "type": "quantitative", "axis": null}}},
    {"data": {"name": "legC"}, "transform": [{"filter": "datum.s == '10'"}],
     "mark": {"type": "rule", "strokeWidth": 3.5, "color": "#e1232b"},
     "encoding": {"x": {"field": "t1", "type": "quantitative", "axis": null}, "x2": {"field": "t2"}, "y": {"field": "y", "type": "quantitative", "axis": null}}},
    {"data": {"name": "legC"}, "transform": [{"filter": "datum.s != '10'"}],
     "mark": {"type": "rule", "strokeWidth": 1.5},
     "encoding": {"x": {"field": "t1", "type": "quantitative", "axis": null}, "x2": {"field": "t2"}, "y": {"field": "y", "type": "quantitative", "axis": null},
       "color": {"field": "s", "type": "nominal", "scale": {"domain": ["20","30"], "range": ["#5a72bd","#3f8f5a"]}, "legend": null}}},
    {"data": {"name": "legC"}, "transform": [{"filter": "datum.s == '10'"}],
     "mark": {"type": "point", "shape": "circle", "filled": true, "size": 55, "color": "#e1232b", "opacity": 1},
     "encoding": {"x": {"field": "tm", "type": "quantitative", "axis": null}, "y": {"field": "y", "type": "quantitative", "axis": null}}},
    {"data": {"name": "legC"}, "transform": [{"filter": "datum.s == '20'"}],
     "mark": {"type": "point", "shape": "M-1,-1L1,1M-1,1L1,-1", "filled": false, "size": 64, "strokeWidth": 1, "color": "#3f5aab", "opacity": 1},
     "encoding": {"x": {"field": "tm", "type": "quantitative", "axis": null}, "y": {"field": "y", "type": "quantitative", "axis": null}}},
    {"data": {"name": "legC"}, "transform": [{"filter": "datum.s == '30'"}],
     "mark": {"type": "point", "shape": "square", "filled": false, "size": 70, "strokeWidth": 1.2, "color": "#3f8f5a", "opacity": 1},
     "encoding": {"x": {"field": "tm", "type": "quantitative", "axis": null}, "y": {"field": "y", "type": "quantitative", "axis": null}}},
    {"data": {"name": "legC"},
     "mark": {"type": "text", "align": "left", "baseline": "middle", "fontSize": 18, "fontWeight": "bold"},
     "encoding": {"x": {"field": "tx", "type": "quantitative", "axis": null}, "y": {"field": "y", "type": "quantitative", "axis": null}, "text": {"field": "label"},
       "color": {"field": "s", "type": "nominal", "scale": {"domain": ["10","20","30"], "range": ["#e1232b","#2f4b9c","#1c6b37"]}, "legend": null}}},
    {"data": {"name": "annC"},
     "mark": {"type": "text", "align": "left", "baseline": "middle", "fontSize": 22, "fontWeight": "bold", "color": "#231f20"},
     "encoding": {"x": {"field": "t", "type": "quantitative", "axis": null}, "y": {"field": "e", "type": "quantitative", "axis": null}, "text": {"field": "label"}}}
  ]
}
]
}
